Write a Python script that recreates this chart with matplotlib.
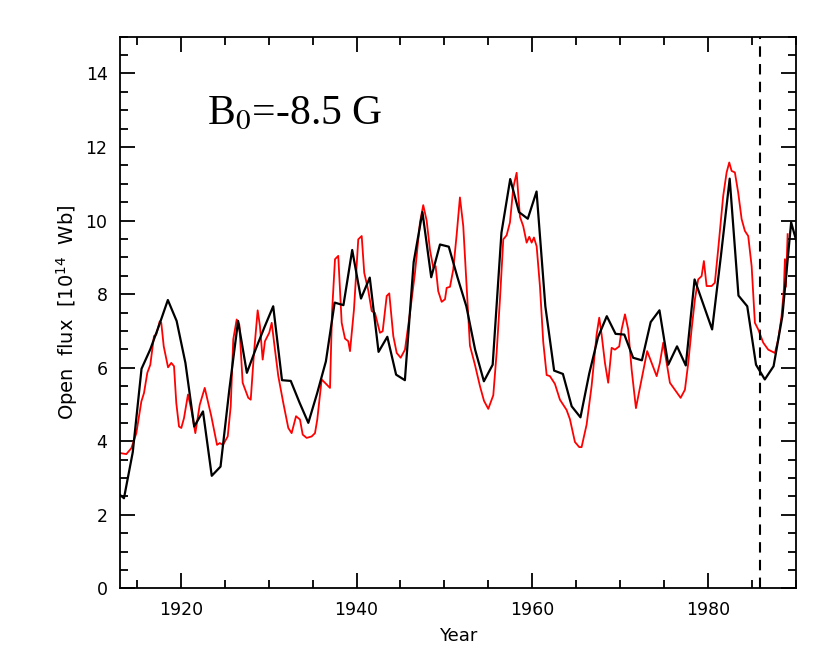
import matplotlib
matplotlib.use('Agg')
import matplotlib.pyplot as plt
from matplotlib.ticker import MultipleLocator

plt.rcParams['font.family'] = ['DejaVu Sans']
plt.rcParams['mathtext.fontset'] = 'dejavusans'

# annual means (black), plotted at mid-year
black_years = [1912.5 + i for i in range(79)]
black_flux = [2.65, 2.45, 3.7, 5.97, 6.5, 7.15, 7.84, 7.27, 6.13, 4.40,
              4.81, 3.06, 3.31, 5.4, 7.27, 5.86, 6.5, 7.1, 7.67, 5.66,
              5.64, 5.05, 4.5, 5.3, 6.17, 7.77, 7.70, 9.2, 7.88, 8.45,
              6.43, 6.84, 5.81, 5.66, 8.87, 10.23, 8.46, 9.35, 9.29, 8.45,
              7.67, 6.49, 5.63, 6.08, 9.67, 11.13, 10.23, 10.05, 10.79, 7.67,
              5.92, 5.83, 4.95, 4.65, 5.84, 6.83, 7.4, 6.92, 6.9, 6.27,
              6.2, 7.24, 7.56, 6.08, 6.58, 6.06, 8.4, 7.72, 7.04, 9.04,
              11.14, 7.96, 7.67, 6.08, 5.68, 6.04, 7.4, 9.95, 9.1]

# model open flux (red)
red_years = [1913.02, 1913.77, 1914.34, 1914.91, 1915.48, 1915.78, 1916.16, 1916.5, 1916.92, 1917.18,
             1917.57, 1917.75, 1918.03, 1918.52, 1918.89, 1919.2, 1919.46, 1919.77, 1920.03, 1920.34,
             1920.79, 1921.17, 1921.63, 1922.13, 1922.7, 1923.45, 1924.1, 1924.41, 1924.78, 1925.32,
             1925.66, 1925.95, 1926.34, 1926.64, 1927.02, 1927.66, 1927.94, 1928.31, 1928.73, 1928.99,
             1929.3, 1929.56, 1930.05, 1930.33, 1930.7, 1931.08, 1931.65, 1932.22, 1932.6, 1933.1,
             1933.55, 1933.86, 1934.31, 1934.88, 1935.26, 1935.52, 1936.02, 1936.59, 1936.97, 1937.2,
             1937.54, 1937.91, 1938.3, 1938.68, 1939.05, 1939.25, 1939.7, 1940.19, 1940.58, 1940.87,
             1941.33, 1941.72, 1942.09, 1942.66, 1942.97, 1943.43, 1943.72, 1944.18, 1944.57, 1945.02,
             1945.51, 1946.08, 1946.65, 1947.22, 1947.59, 1947.98, 1948.36, 1948.73, 1949.0, 1949.3,
             1949.69, 1950.07, 1950.26, 1950.64, 1951.01, 1951.4, 1951.77, 1952.15, 1952.54, 1952.91,
             1953.48, 1954.05, 1954.51, 1955.0, 1955.57, 1955.95, 1956.33, 1956.71, 1957.09, 1957.47,
             1957.85, 1958.23, 1958.61, 1958.98, 1959.37, 1959.67, 1959.94, 1960.2, 1960.51, 1960.89,
             1961.26, 1961.65, 1962.02, 1962.59, 1963.16, 1963.92, 1964.3, 1964.87, 1965.36, 1965.63,
             1966.2, 1966.77, 1967.34, 1967.64, 1967.91, 1968.29, 1968.66, 1969.05, 1969.43, 1969.92,
             1970.19, 1970.57, 1970.94, 1971.33, 1971.82, 1972.27, 1972.84, 1973.1, 1973.61, 1974.18,
             1974.55, 1974.93, 1975.32, 1975.69, 1976.26, 1976.91, 1977.4, 1977.78, 1978.16, 1978.54,
             1978.91, 1979.3, 1979.56, 1979.87, 1980.44, 1980.81, 1981.19, 1981.76, 1982.15, 1982.45,
             1982.72, 1983.09, 1983.47, 1983.86, 1984.23, 1984.61, 1985.0, 1985.37, 1985.75, 1986.32,
             1986.89, 1987.65, 1988.03, 1988.41, 1988.67, 1988.79, 1988.9, 1989.1]
red_flux = [3.68, 3.65, 3.81, 4.22, 5.08, 5.31, 5.86, 6.08, 6.86, 6.9,
            7.26, 7.22, 6.58, 6.01, 6.13, 6.04, 5.04, 4.40, 4.36, 4.63,
            5.27, 4.86, 4.22, 4.99, 5.45, 4.68, 3.9, 3.95, 3.9, 4.13,
            4.95, 6.77, 7.31, 7.17, 5.59, 5.18, 5.13, 6.4, 7.56, 7.13,
            6.22, 6.72, 6.95, 7.22, 6.49, 5.77, 5.04, 4.36, 4.22, 4.68,
            4.59, 4.18, 4.09, 4.13, 4.22, 4.59, 5.68, 5.54, 5.45, 7.5,
            8.95, 9.04, 7.22, 6.79, 6.72, 6.45, 7.58, 9.49, 9.58, 8.58,
            8.1, 7.54, 7.49, 6.95, 6.99, 7.95, 8.02, 6.86, 6.4, 6.27,
            6.49, 7.49, 8.58, 9.95, 10.42, 10.0, 9.2, 8.72, 8.76, 8.08,
            7.79, 7.86, 8.17, 8.2, 8.67, 9.62, 10.63, 9.85, 8.2, 6.6,
            6.08, 5.5, 5.1, 4.88, 5.25, 6.4, 7.86, 9.49, 9.6, 9.95,
            10.9, 11.3, 10.1, 9.85, 9.4, 9.56, 9.4, 9.54, 9.3, 8.2,
            6.7, 5.8, 5.77, 5.56, 5.13, 4.85, 4.6, 3.98, 3.84, 3.84,
            4.45, 5.5, 6.9, 7.36, 6.9, 6.13, 5.59, 6.54, 6.49, 6.58,
            7.04, 7.45, 7.04, 5.95, 4.9, 5.45, 6.13, 6.45, 6.13, 5.77,
            6.13, 6.68, 6.13, 5.59, 5.4, 5.18, 5.4, 6.13, 7.04, 7.86,
            8.4, 8.49, 8.9, 8.22, 8.22, 8.31, 9.22, 10.67, 11.31, 11.58,
            11.35, 11.31, 10.76, 10.04, 9.72, 9.58, 8.76, 7.22, 7.04, 6.68,
            6.49, 6.4, 6.77, 7.4, 8.13, 8.95, 8.2, 9.63]

split_year = 1986.0

fig = plt.figure(figsize=(8.3, 6.65), dpi=100)
ax = fig.add_axes([0.1446, 0.1153, 0.8144, 0.8295])

ax.plot(red_years, red_flux, color='red', lw=1.3)
ax.plot(black_years, black_flux, color='black', lw=1.6)
ax.axvline(split_year, color='black', lw=1.5, ls=(0, (5, 3.5)))

ax.set_xlim(1913.05, 1990.05)
ax.set_ylim(0, 15)
ax.xaxis.set_major_locator(MultipleLocator(20))
ax.xaxis.set_minor_locator(MultipleLocator(5))
ax.yaxis.set_major_locator(MultipleLocator(2))
ax.yaxis.set_minor_locator(MultipleLocator(0.5))
ax.tick_params(which='both', direction='in', top=True, right=True, width=1.3, labelsize=12.5, pad=9)
ax.tick_params(which='major', length=11)
ax.tick_params(which='minor', length=5.5)
for s in ax.spines.values():
    s.set_linewidth(1.3)

ax.set_xlabel('Year', fontsize=13, labelpad=6)
ax.set_ylabel('Open  flux  [10$^{14}$  Wb]', fontsize=14, labelpad=4)

ax.text(1923.0, 12.62, 'B$_{0}$=-8.5 G', fontsize=30,
        family='Liberation Serif', math_fontfamily='stix')

fig.savefig('out.png', dpi=100)
